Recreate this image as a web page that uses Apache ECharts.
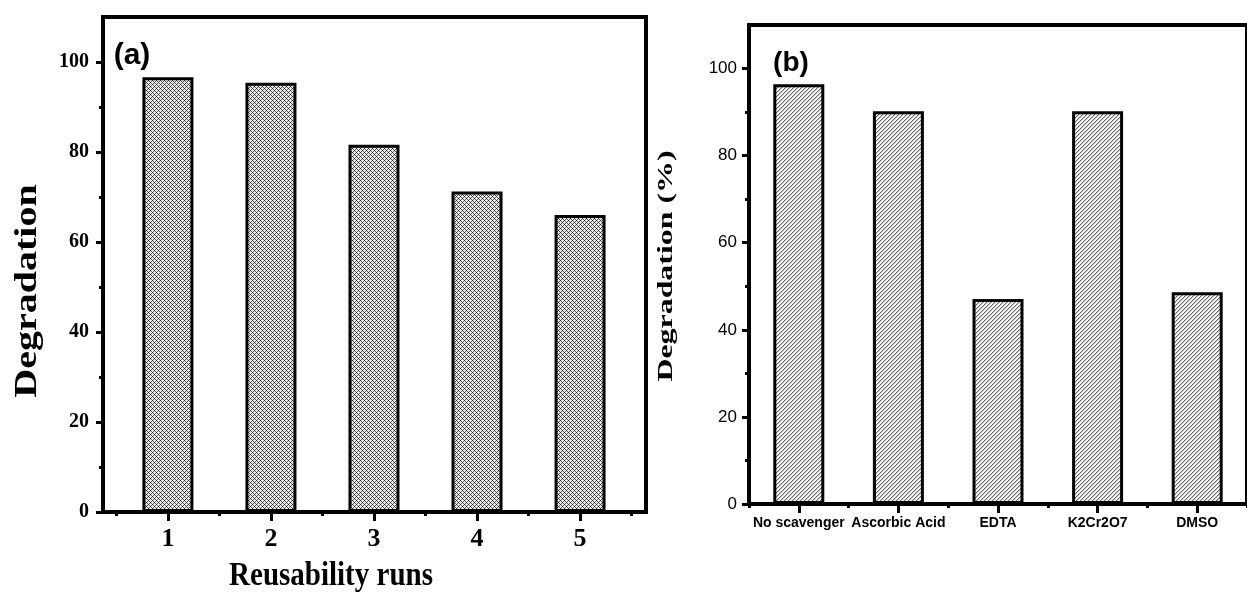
<!DOCTYPE html>
<html>
<head>
<meta charset="utf-8">
<script src="https://cdn.jsdelivr.net/npm/echarts@6/dist/echarts.min.js"></script>
<style>
  html, body { margin: 0; padding: 0; background: #fff; }
  #chart { width: 1247px; height: 597px; }
</style>
</head>
<body>
<div id="chart"></div>
<script>
// ---- data ----
const runs = [1, 2, 3, 4, 5];
const reuseValues = [96.6, 95.4, 81.6, 71.2, 66.0];
const scavengers = ['No scavenger', 'Ascorbic Acid', 'EDTA', 'K2Cr2O7', 'DMSO'];
const scavengerValues = [96.4, 90.2, 47.1, 90.2, 48.6];
const yTicksMajor = [0, 20, 40, 60, 80, 100];
const yTicksMinor = [10, 30, 50, 70, 90];
const xTicksMajorA = [1, 2, 3, 4, 5];
const xTicksMinorA = [0.5, 1.5, 2.5, 3.5, 4.5, 5.5];

// ---- hatch patterns ----
function makeTile(size, fn) {
  const c = document.createElement('canvas');
  c.width = size; c.height = size;
  const ctx = c.getContext('2d');
  for (let x = 0; x < size; x++) {
    for (let y = 0; y < size; y++) {
      ctx.fillStyle = fn(x, y);
      ctx.fillRect(x, y, 1, 1);
    }
  }
  return c;
}
const crossTile = makeTile(4, (x, y) => {
  const a = (x + y) % 4 === 0, b = ((x - y) % 4 + 4) % 4 === 0;
  if (a && b) return '#222';
  if (a || b) return '#5a5a5a';
  return '#ececec';
});
const diagTile = makeTile(4, (x, y) => {
  const k = (x + y) % 4;
  if (k === 0) return '#6a6a6a';
  if (k === 1) return '#c4c4c4';
  return '#f6f6f6';
});

const serifBold = { fontFamily: 'Liberation Serif', fontWeight: 'bold', color: '#000' };
const sans = "'Liberation Sans', Arial";

const chart = echarts.init(document.getElementById('chart'), null, { renderer: 'canvas' });

const axisLine = { show: true, lineStyle: { color: '#000', width: 4 } };

chart.setOption({
  animation: false,
  backgroundColor: '#fff',
  grid: [
    { left: 103, top: 17, width: 543, height: 495, show: true, borderColor: '#000', borderWidth: 4, containLabel: false },
    { left: 749, top: 25, width: 506, height: 479, show: true, borderColor: '#000', borderWidth: 4, containLabel: false }
  ],
  xAxis: [
    { gridIndex: 0, type: 'value', position: 'bottom', min: 0.37, max: 5.64,
      axisLine: axisLine,
      axisTick: { show: true, inside: false, length: 9, lineStyle: { width: 3, color: '#000' }, customValues: xTicksMajorA },
      axisLabel: Object.assign({ fontSize: 26, margin: 14, customValues: xTicksMajorA }, serifBold),
      splitLine: { show: false } },
    { gridIndex: 0, type: 'value', position: 'bottom', min: 0.37, max: 5.64,
      axisLine: { show: false },
      axisTick: { show: true, length: 4, lineStyle: { width: 3, color: '#000' }, customValues: xTicksMinorA },
      axisLabel: { show: false }, splitLine: { show: false } },
    { gridIndex: 1, type: 'category', position: 'bottom', data: scavengers, boundaryGap: true,
      axisLine: axisLine,
      axisTick: { show: true, alignWithLabel: true, interval: 0, length: 9, lineStyle: { width: 3, color: '#000' } },
      axisLabel: { interval: 0, fontSize: 14, fontWeight: 'bold', fontFamily: sans, color: '#000', margin: 12 },
      splitLine: { show: false } },
    { gridIndex: 1, type: 'category', position: 'bottom', data: scavengers, boundaryGap: true,
      axisLine: { show: false },
      axisTick: { show: true, alignWithLabel: false, interval: 0, length: 4, lineStyle: { width: 3, color: '#000' } },
      axisLabel: { show: false }, splitLine: { show: false } }
  ],
  yAxis: [
    { gridIndex: 0, type: 'value', position: 'left', min: 0, max: 110,
      axisLine: axisLine,
      axisTick: { show: true, length: 7, lineStyle: { width: 3, color: '#000' }, customValues: yTicksMajor },
      axisLabel: Object.assign({ fontSize: 20, margin: 14, customValues: yTicksMajor }, serifBold),
      splitLine: { show: false } },
    { gridIndex: 0, type: 'value', position: 'left', min: 0, max: 110,
      axisLine: { show: false },
      axisTick: { show: true, length: 4, lineStyle: { width: 3, color: '#000' }, customValues: yTicksMinor },
      axisLabel: { show: false }, splitLine: { show: false } },
    { gridIndex: 1, type: 'value', position: 'left', min: 0, max: 110,
      axisLine: axisLine,
      axisTick: { show: true, length: 7, lineStyle: { width: 3, color: '#000' }, customValues: yTicksMajor },
      axisLabel: { fontSize: 17, fontFamily: sans, color: '#000', margin: 12, customValues: yTicksMajor },
      splitLine: { show: false } },
    { gridIndex: 1, type: 'value', position: 'left', min: 0, max: 110,
      axisLine: { show: false },
      axisTick: { show: true, length: 4, lineStyle: { width: 3, color: '#000' }, customValues: yTicksMinor },
      axisLabel: { show: false }, splitLine: { show: false } }
  ],
  series: [
    { type: 'bar', xAxisIndex: 0, yAxisIndex: 0, barWidth: 51,
      data: runs.map((r, i) => [r, reuseValues[i]]),
      itemStyle: { color: { image: crossTile, repeat: 'repeat' }, borderColor: '#000', borderWidth: 3 } },
    { type: 'bar', xAxisIndex: 2, yAxisIndex: 2, barWidth: 51,
      data: scavengerValues,
      itemStyle: { color: { image: diagTile, repeat: 'repeat' }, borderColor: '#000', borderWidth: 3 } }
  ],
  graphic: [
    { type: 'text', x: 132, y: 56, style: { text: '(a)', font: 'bold 30px "Liberation Sans"', fill: '#000', align: 'center', verticalAlign: 'middle' } },
    { type: 'text', x: 791, y: 63, style: { text: '(b)', font: 'bold 28px "Liberation Sans"', fill: '#000', align: 'center', verticalAlign: 'middle' } },
    { type: 'text', x: 331, y: 576, scaleY: 1.15, style: { text: 'Reusability runs', font: 'bold 29px "Liberation Serif"', fill: '#000', align: 'center', verticalAlign: 'middle' } },
    { type: 'text', x: 28, y: 291, rotation: Math.PI / 2, scaleX: 1.25, style: { text: 'Degradation', font: 'bold 32px "Liberation Serif"', fill: '#000', align: 'center', verticalAlign: 'middle' } },
    { type: 'text', x: 666, y: 266, rotation: Math.PI / 2, scaleX: 1.45, style: { text: 'Degradation (%)', font: 'bold 22px "Liberation Serif"', fill: '#000', align: 'center', verticalAlign: 'middle' } }
  ]
});
</script>
</body>
</html>
